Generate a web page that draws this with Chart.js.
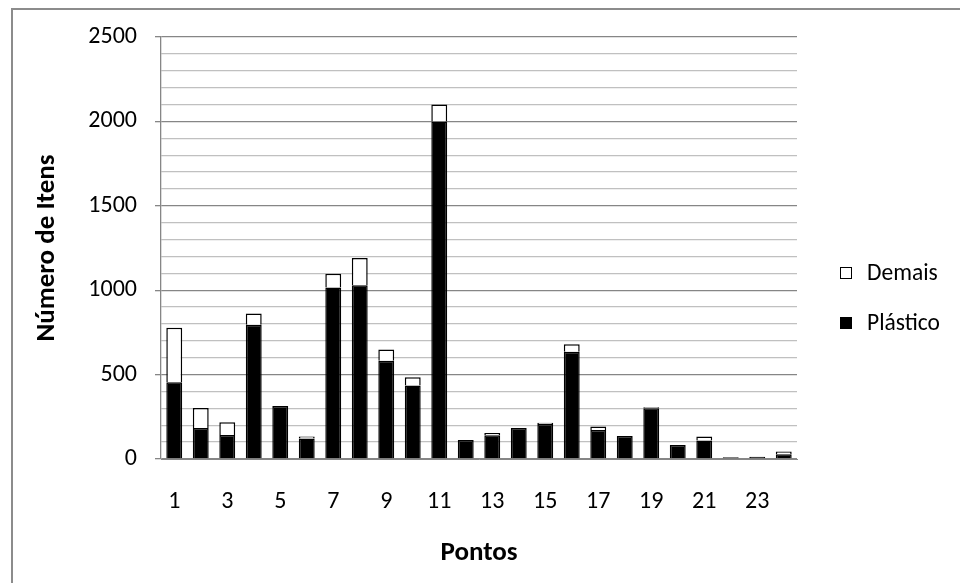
<!DOCTYPE html>
<html>
<head>
<meta charset="utf-8">
<script src="https://cdn.jsdelivr.net/npm/chart.js@4.4.1/dist/chart.umd.min.js"></script>
<style>
  html, body { margin: 0; padding: 0; background: #ffffff; }
  #wrap { width: 960px; height: 583px; position: relative; }
</style>
</head>
<body>
<div id="wrap"><canvas id="c" width="960" height="583"></canvas></div>
<script>
// Pontos de coleta 1–24
const categories = ['1','2','3','4','5','6','7','8','9','10','11','12',
                    '13','14','15','16','17','18','19','20','21','22','23','24'];

// Itens plásticos por ponto
const plastico = [455, 183, 142, 795, 314, 122, 1016, 1030, 582, 436, 2000, 112,
                  140, 183, 207, 635, 172, 136, 300, 83, 110, 10, 14, 28];

// Demais itens por ponto
const demais = [322, 119, 75, 67, 0, 12, 81, 161, 67, 49, 100, 0,
                14, 0, 8, 45, 21, 0, 6, 0, 24, 0, 0, 17];

const yMajorTicks = [0, 500, 1000, 1500, 2000, 2500];

const FONT = "Carlito, Lato, 'Liberation Sans', sans-serif";
const GRID_MAJOR = '#868686';
const GRID_MINOR = '#c0c0c0';

// Moldura cinza em volta do gráfico
const framePlugin = {
  id: 'frame',
  beforeDraw(chart) {
    const ctx = chart.ctx;
    ctx.save();
    ctx.fillStyle = '#ffffff';
    ctx.fillRect(0, 0, chart.width, chart.height);
    ctx.strokeStyle = '#8c8c8c';
    ctx.lineWidth = 2;
    ctx.strokeRect(12, 9, chart.width + 20, chart.height + 20);
    ctx.restore();
  }
};

// Legenda à direita: séries na ordem do empilhamento (topo primeiro)
const legendPlugin = {
  id: 'sideLegend',
  afterDraw(chart) {
    const ctx = chart.ctx;
    const sets = chart.data.datasets.slice().reverse();
    const x0 = 840;
    const yStart = 273;
    const gap = 50;
    ctx.save();
    ctx.font = '23.5px ' + FONT;
    ctx.textBaseline = 'middle';
    ctx.textAlign = 'left';
    sets.forEach((ds, i) => {
      const y = yStart + i * gap;
      ctx.fillStyle = ds.backgroundColor;
      ctx.fillRect(x0, y - 6, 12, 12);
      ctx.strokeStyle = '#000000';
      ctx.lineWidth = 1;
      ctx.strokeRect(x0 + 0.5, y - 5.5, 11, 11);
      ctx.fillStyle = '#000000';
      ctx.fillText(ds.label, x0 + 27, y + 1);
    });
    ctx.restore();
  }
};

new Chart(document.getElementById('c'), {
  type: 'bar',
  data: {
    labels: categories,
    datasets: [
      {
        label: 'Plástico',
        data: plastico,
        backgroundColor: '#000000',
        borderColor: '#000000',
        borderWidth: 1.5,
        categoryPercentage: 1,
        barPercentage: 0.6
      },
      {
        label: 'Demais',
        data: demais,
        backgroundColor: '#ffffff',
        borderColor: '#000000',
        borderWidth: 1.5,
        categoryPercentage: 1,
        barPercentage: 0.6
      }
    ]
  },
  options: {
    responsive: false,
    animation: false,
    devicePixelRatio: 1,
    layout: { padding: { left: 11, right: 163, top: 37, bottom: 0 } },
    plugins: {
      legend: { display: false },
      tooltip: { enabled: false }
    },
    scales: {
      x: {
        stacked: true,
        grid: { display: false, drawTicks: false },
        border: { display: true, color: GRID_MAJOR, width: 1 },
        ticks: {
          autoSkip: false,
          maxRotation: 0,
          padding: 29,
          color: '#000000',
          font: { family: FONT, size: 24 },
          callback: (v, i) => (i % 2 === 0 ? categories[i] : '')
        },
        title: {
          display: true,
          text: 'Pontos',
          color: '#000000',
          font: { family: FONT, size: 27, weight: 'bold' },
          padding: { top: 0, bottom: 14 }
        },
        afterFit: (scale) => { scale.height = 124; }
      },
      y: {
        stacked: true,
        min: 0,
        max: 2500,
        grid: {
          color: (c) => (yMajorTicks.includes(c.tick.value) ? GRID_MAJOR : GRID_MINOR),
          tickColor: (c) => (yMajorTicks.includes(c.tick.value) ? GRID_MAJOR : 'rgba(0,0,0,0)'),
          tickLength: 6,
          lineWidth: 1.3
        },
        border: { display: true, color: GRID_MAJOR, width: 1.3 },
        ticks: {
          stepSize: 100,
          maxTicksLimit: 30,
          autoSkip: false,
          padding: 18,
          color: '#000000',
          font: { family: FONT, size: 24 },
          callback: (v) => (yMajorTicks.includes(v) ? String(v) : '')
        },
        title: {
          display: true,
          text: 'Número de Itens',
          color: '#000000',
          font: { family: FONT, size: 27, weight: 'bold' },
          padding: { top: 20, bottom: 0 }
        },
        afterFit: (scale) => { scale.width = 150; }
      }
    }
  },
  plugins: [framePlugin, legendPlugin]
});
</script>
</body>
</html>
